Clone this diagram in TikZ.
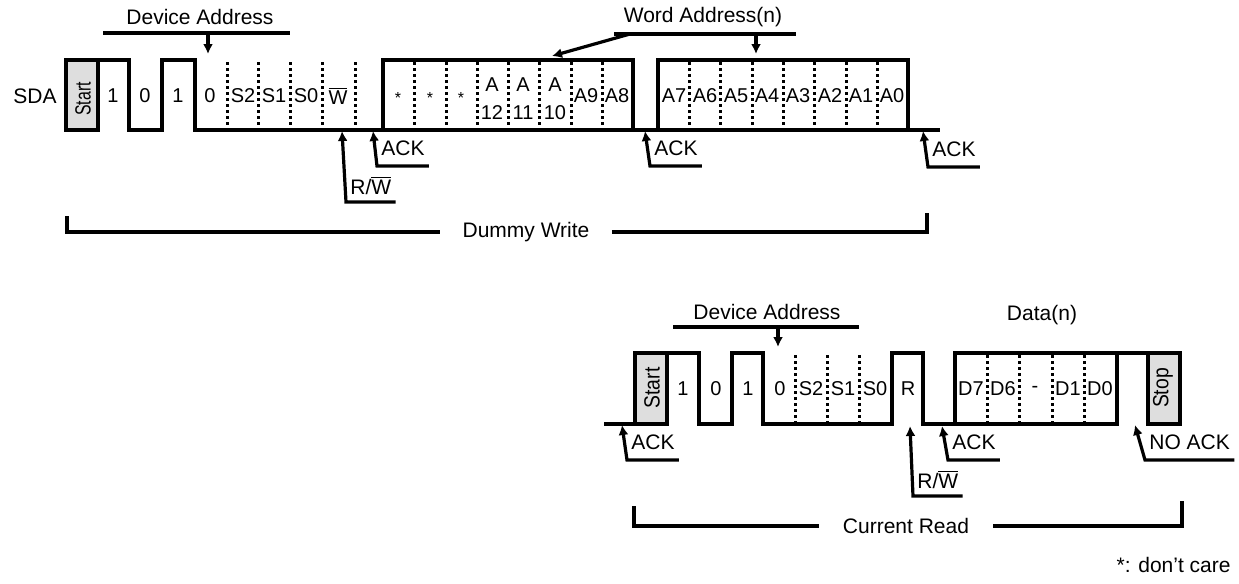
\documentclass[tikz,border=0pt]{standalone}
\usepackage{fontspec}
\setmainfont{Liberation Sans}
\usetikzlibrary{arrows.meta,calc}

\begin{document}
\begin{tikzpicture}[x=0.5pt,y=-0.5pt,
wave/.style={line width=1.7pt, line join=miter},
bitbox/.style={wave, fill=black!13},
sep/.style={line width=1.5pt, dash pattern=on 1.5pt off 1.5pt},
ptr/.style={line width=1.6pt, -{Latex[length=5pt,width=5pt]}},
brk/.style={line width=1.6pt},
bit/.style={inner sep=0, font=\fontsize{10}{14}\selectfont, align=center},
lab/.style={inner sep=0, font=\fontsize{10.5}{12}\selectfont},
side/.style={inner sep=0, rotate=90, font=\fontsize{11}{12}\selectfont},
cl/.style={lab, inner xsep=2pt, inner ysep=2.5pt, text height=8pt, text depth=2.5pt, anchor=south west}]

\useasboundingbox (0,0) rectangle (1239,584);

% ---- dummy write ----
\node[lab] (sda) at (35,96) {SDA};
\draw[bitbox] (66,60) rectangle (98,130);
\node[side] (startA) at (83,99) {\scalebox{0.72}[1]{Start}};
\draw[wave] (98,60) -- (129,60) -- (129,130) -- (162,130) -- (162,60) -- (195,60) -- (195,130) -- (940,130);
\draw[wave] (383,130) rectangle (633,60);
\draw[wave] (658,130) rectangle (908,60);
\foreach \x in {227,258,290,322,355,414,446,477,508,539,571,602,689,720,752,783,814,846,877}
  \draw[sep] (\x,62) -- (\x,128);

\foreach \x/\t in {113/1,145/0,178/1,210/0,243/S2,274/S1,306/S0,338/{$\overline{\mbox{W}}$}}
  \node[bit] (a\x) at (\x,96) {\t};
\foreach \x in {398,430,461}
  \node[bit, font=\fontsize{8}{8}\selectfont] (a\x) at (\x,98) {*};
\foreach \x/\t in {492/12,523/11,555/10}
  \node[bit] (a\x) at (\x,99) {A\\\t};
\foreach \x/\t in {586/A9,617/A8,674/A7,705/A6,736/A5,767/A4,798/A3,830/A2,861/A1,892/A0}
  \node[bit] (a\x) at (\x,96) {\t};

\node[lab] (devA) at (200,17) {Device Address};
\draw[brk] (103,33) -- (290,33);
\coordinate (devAbar) at (208,33);
\coordinate (devAtip) at (208,54);
\draw[ptr] (devAbar) -- (devAtip);

\node[lab] (word) at (703,17) {Word Address(n)};
\draw[brk] (614,34) -- (796,34);
\coordinate (wordL) at (630,34);
\coordinate (wordR) at (756,34);
\coordinate (wordLtip) at (552,56);
\coordinate (wordRtip) at (756,54);
\draw[ptr] (wordL) -- (wordLtip);
\draw[ptr] (wordR) -- (wordRtip);

\node[cl, inner ysep=1pt] (rwA) at (346,202) {R/$\overline{\mbox{W}}$};
\coordinate (rwAtip) at (342,131);
\draw[ptr] (rwA.south east) -- (rwA.south west) -- (rwAtip);
\node[cl] (ackA) at (377,166) {ACK};
\coordinate (ackAtip) at (373,131);
\draw[ptr] (ackA.south east) -- (ackA.south west) -- (ackAtip);
\node[cl] (ackB) at (650,166) {ACK};
\coordinate (ackBtip) at (645,131);
\draw[ptr] (ackB.south east) -- (ackB.south west) -- (ackBtip);
\node[cl] (ackC) at (928,167) {ACK};
\coordinate (ackCtip) at (923,131);
\draw[ptr] (ackC.south east) -- (ackC.south west) -- (ackCtip);

\node[lab, inner xsep=11pt] (dw) at (526,232) {Dummy Write};
\coordinate (dwL) at (67,216);
\coordinate (dwR) at (927,213);
\draw[brk] (dwL) |- (dw.west);
\draw[brk] (dw.east) -| (dwR);

% ---- current read ----
\draw[wave] (604,424) -- (635,424);
\draw[bitbox] (635,353) rectangle (667,424);
\node[side] (startB) at (652,388) {\scalebox{0.88}[1]{Start}};
\draw[wave] (667,353) -- (699,353) -- (699,424) -- (732,424) -- (732,353) -- (763,353) -- (763,424) -- (892,424) -- (892,353) -- (923,353) -- (923,424) -- (1117,424);
\draw[wave] (955,424) rectangle (1117,353);
\draw[wave] (1117,353) -- (1148,353);
\draw[bitbox] (1148,353) rectangle (1180,424);
\node[side] (stopB) at (1163,388) {\scalebox{0.88}[1]{Stop}};
\foreach \x in {795,827,859,987,1019,1052,1084}
  \draw[sep] (\x,355) -- (\x,422);

\foreach \x/\t in {683/1,716/0,748/1,780/0,811/S2,843/S1,875/S0,908/R,971/D7,1003/D6,1035/-,1068/D1,1100/D0}
  \node[bit] (b\x) at (\x,389) {\t};

\node[lab] (devB) at (767,312) {Device Address};
\draw[brk] (673,327) -- (859,327);
\coordinate (devBbar) at (778,327);
\coordinate (devBtip) at (778,347);
\draw[ptr] (devBbar) -- (devBtip);
\node[lab] (data) at (1042,315) {Data(n)};

\node[cl] (ackD) at (627,460) {ACK};
\coordinate (ackDtip) at (622,425);
\draw[ptr] (ackD.south east) -- (ackD.south west) -- (ackDtip);
\node[cl, inner ysep=1pt] (rwB) at (913,496) {R/$\overline{\mbox{W}}$};
\coordinate (rwBtip) at (910,426);
\draw[ptr] (rwB.south east) -- (rwB.south west) -- (rwBtip);
\node[cl] (ackE) at (948,460) {ACK};
\coordinate (ackEtip) at (942,426);
\draw[ptr] (ackE.south east) -- (ackE.south west) -- (ackEtip);
\node[cl] (nack) at (1145,460) {NO ACK};
\coordinate (nacktip) at (1135,425);
\draw[ptr] (nack.south east) -- (nack.south west) -- (nacktip);

\node[lab, inner xsep=12pt] (cr) at (906,526) {Current Read};
\coordinate (crL) at (634,506);
\coordinate (crR) at (1182,501);
\draw[brk] (crL) |- (cr.west);
\draw[brk] (cr.east) -| (crR);

\node[lab, anchor=east] (note) at (1231,565) {*: don’t care};
\end{tikzpicture}
\end{document}
